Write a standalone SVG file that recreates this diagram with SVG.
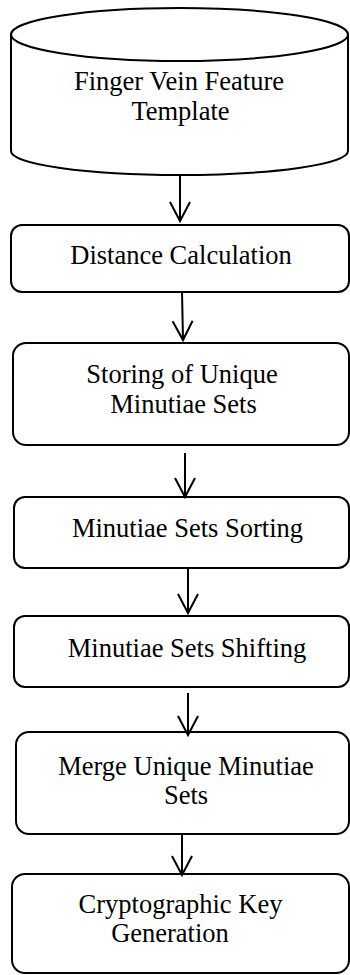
<svg xmlns="http://www.w3.org/2000/svg" width="350" height="975" viewBox="0 0 350 975">
  <style>
    .shape { fill: #ffffff; stroke: #000000; stroke-width: 2; }
    .link { fill: none; stroke: #000000; stroke-width: 2; marker-end: url(#vhead); }
  </style>
  <defs>
    <marker id="vhead" markerUnits="userSpaceOnUse" markerWidth="24" markerHeight="24" refX="0" refY="0" orient="auto" overflow="visible">
      <path d="M -19,-10 L 0,0 L -19,10" fill="none" stroke="#000000" stroke-width="2"/>
    </marker>
  </defs>

  <rect width="350" height="975" fill="#ffffff"/>

  <g font-family="Liberation Serif, Times New Roman, serif" font-size="26.5" fill="#000000" text-anchor="middle">
    <!-- data store: cylinder -->
    <g id="template">
      <path class="shape" d="M 11,34.5 L 11,151 A 168.5,24 0 0 0 348,151 L 348,34.5"/>
      <ellipse class="shape" cx="179.5" cy="34.5" rx="168.5" ry="26.5"/>
      <text x="179" y="90">Finger Vein Feature</text>
      <text x="180.5" y="120">Template</text>
    </g>

    <g id="distance">
      <rect class="shape" x="11" y="225" width="338" height="67" rx="11"/>
      <text x="181" y="264">Distance Calculation</text>
    </g>

    <g id="storing">
      <rect class="shape" x="13" y="343" width="336" height="102" rx="13"/>
      <text x="182" y="383">Storing of Unique</text>
      <text x="183.5" y="413">Minutiae Sets</text>
    </g>

    <g id="sorting">
      <rect class="shape" x="14" y="497" width="335" height="71" rx="11"/>
      <text x="187.5" y="537">Minutiae Sets Sorting</text>
    </g>

    <g id="shifting">
      <rect class="shape" x="14" y="616" width="335" height="71" rx="11"/>
      <text x="187" y="657">Minutiae Sets Shifting</text>
    </g>

    <g id="merge">
      <rect class="shape" x="16" y="732" width="333" height="102" rx="13"/>
      <text x="186" y="775">Merge Unique Minutiae</text>
      <text x="186" y="804">Sets</text>
    </g>

    <g id="keygen">
      <rect class="shape" x="12" y="874" width="337" height="99" rx="13"/>
      <text x="180.5" y="913">Cryptographic Key</text>
      <text x="170" y="942">Generation</text>
    </g>
  </g>

  <g id="connectors">
    <path class="link" d="M 180,175 L 180,221"/>
    <path class="link" d="M 182,292 L 183,340"/>
    <path class="link" d="M 185,453 L 185,497"/>
    <path class="link" d="M 188,569 L 188,613"/>
    <path class="link" d="M 188,693 L 188,735"/>
    <path class="link" d="M 182,834 L 182,875"/>
  </g>
</svg>
